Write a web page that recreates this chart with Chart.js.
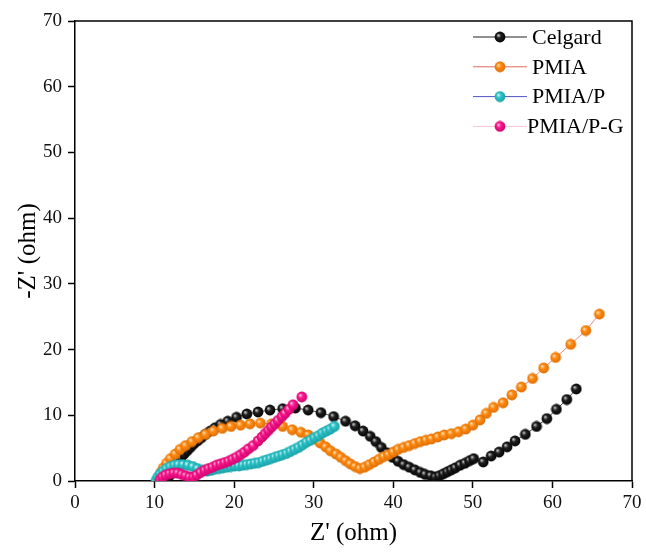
<!DOCTYPE html>
<html>
<head>
<meta charset="utf-8">
<title>Nyquist</title>
<script src="https://cdn.jsdelivr.net/npm/chart.js@4.4.0/dist/chart.umd.min.js"></script>
<style>
  body { margin: 0; background: #fff; }
  canvas { display: block; }
</style>
</head>
<body>
<canvas id="nyquist" width="646" height="556"></canvas>
<script>
const etiquetas = ["Celgard", "PMIA", "PMIA/P", "PMIA/P-G"];

// Z' (ohm) / -Z'' (ohm) de cada membrana
const celgardX = [11.6, 11.8, 12.0, 12.3, 12.6, 12.9, 13.3, 13.7, 14.1, 14.5, 14.9, 15.4, 15.9, 16.4, 17.0, 17.6, 18.3, 19.2, 20.3, 21.6, 23.0, 24.5, 26.1, 27.7, 29.3, 30.9, 32.5, 34.0, 35.2, 36.2, 37.1, 37.8, 38.5, 39.2, 39.9, 40.6, 41.3, 42.0, 42.7, 43.4, 44.0, 44.7, 45.3, 45.8, 46.3, 46.8, 47.3, 47.8, 48.4, 49.0, 49.6, 50.1, 51.3, 52.3, 53.3, 54.3, 55.3, 56.6, 58.0, 59.3, 60.5, 61.8, 63.0];
const celgardY = [0.2, 0.7, 1.2, 1.8, 2.4, 3.0, 3.5, 4.1, 4.6, 5.1, 5.6, 6.1, 6.6, 7.1, 7.6, 8.1, 8.6, 9.1, 9.7, 10.2, 10.5, 10.8, 11.0, 11.1, 10.8, 10.4, 9.8, 9.1, 8.4, 7.6, 6.8, 6.0, 5.1, 4.3, 3.6, 3.0, 2.5, 2.1, 1.7, 1.3, 1.0, 0.8, 0.6, 0.8, 1.1, 1.4, 1.7, 2.0, 2.4, 2.7, 3.1, 3.4, 2.9, 3.8, 4.4, 5.2, 6.1, 7.1, 8.3, 9.5, 10.9, 12.4, 14.0];

const pmiaX = [10.6, 10.8, 11.1, 11.5, 12.0, 12.6, 13.2, 13.9, 14.7, 15.5, 16.4, 17.4, 18.5, 19.6, 20.8, 22.0, 23.3, 24.7, 26.1, 27.3, 28.4, 29.3, 30.1, 30.8, 31.5, 32.1, 32.8, 33.4, 34.0, 34.6, 35.2, 35.8, 36.4, 37.0, 37.6, 38.2, 38.8, 39.4, 40.0, 40.6, 41.3, 42.0, 42.7, 43.4, 44.1, 44.8, 45.6, 46.4, 47.3, 48.2, 49.1, 50.0, 50.9, 51.7, 52.6, 53.8, 54.9, 56.1, 57.5, 58.9, 60.4, 62.3, 64.2, 65.9];
const pmiaY = [0.6, 1.3, 2.0, 2.7, 3.4, 4.1, 4.8, 5.4, 6.0, 6.6, 7.1, 7.6, 8.0, 8.3, 8.5, 8.7, 8.8, 8.7, 8.3, 7.8, 7.4, 7.0, 6.4, 5.8, 5.2, 4.6, 4.1, 3.6, 3.1, 2.6, 2.2, 1.9, 2.1, 2.5, 2.9, 3.3, 3.7, 4.0, 4.4, 4.8, 5.1, 5.4, 5.7, 6.0, 6.2, 6.4, 6.7, 7.0, 7.2, 7.5, 7.9, 8.5, 9.3, 10.3, 11.2, 11.9, 13.1, 14.3, 15.6, 17.2, 18.8, 20.8, 22.9, 25.4];

const pmiaPX = [10.2, 10.4, 10.7, 11.1, 11.5, 12.0, 12.5, 13.0, 13.6, 14.2, 14.8, 15.4, 16.0, 16.6, 17.1, 17.6, 18.1, 18.6, 19.1, 19.6, 20.1, 20.6, 21.1, 21.6, 22.1, 22.6, 23.1, 23.6, 24.1, 24.6, 25.1, 25.6, 26.1, 26.6, 27.1, 27.6, 28.1, 28.6, 29.1, 29.6, 30.1, 30.6, 31.1, 31.6, 32.1, 32.6];
const pmiaPY = [0.1, 0.6, 1.1, 1.5, 1.9, 2.2, 2.4, 2.5, 2.5, 2.4, 2.2, 1.9, 1.6, 1.5, 1.6, 1.8, 1.9, 2.0, 2.1, 2.2, 2.3, 2.3, 2.4, 2.5, 2.6, 2.7, 2.8, 3.0, 3.2, 3.4, 3.6, 3.8, 4.0, 4.2, 4.5, 4.8, 5.1, 5.5, 5.9, 6.2, 6.6, 6.9, 7.3, 7.6, 7.9, 8.3];

const pmiaPGX = [10.7, 11.0, 11.4, 11.9, 12.4, 12.9, 13.4, 13.9, 14.4, 14.9, 15.3, 15.8, 16.3, 16.8, 17.3, 17.8, 18.3, 18.8, 19.3, 19.8, 20.3, 20.8, 21.3, 21.8, 22.4, 23.0, 23.5, 23.9, 24.3, 24.7, 25.1, 25.5, 26.0, 26.4, 26.9, 27.4, 28.5];
const pmiaPGY = [0.2, 0.6, 0.9, 1.1, 1.2, 1.2, 1.0, 0.8, 0.6, 0.6, 0.9, 1.3, 1.6, 1.9, 2.1, 2.4, 2.6, 2.8, 3.0, 3.3, 3.6, 4.0, 4.4, 4.9, 5.4, 6.1, 6.7, 7.2, 7.7, 8.2, 8.7, 9.2, 9.8, 10.3, 10.9, 11.6, 12.8];

const ejeMin = 0;
const ejeMax = 70;
const paso = 10;

const fuente = "'Liberation Serif', 'Times New Roman', serif";

// bolita con brillo para los marcadores
function bola(brillo, color, sombra) {
    const c = document.createElement("canvas");
    c.width = 12;
    c.height = 12;
    const ctx = c.getContext("2d");
    const g = ctx.createRadialGradient(4.2, 4.2, 0.3, 6, 6, 6);
    g.addColorStop(0, brillo);
    g.addColorStop(0.35, color);
    g.addColorStop(1, sombra);
    ctx.fillStyle = g;
    ctx.beginPath();
    ctx.arc(6, 6, 5.4, 0, Math.PI * 2);
    ctx.fill();
    return c;
}

const series = [
    { x: celgardX, y: celgardY, linea: "#222222", bola: bola("#c8c8c8", "#202020", "#000000") },
    { x: pmiaX, y: pmiaY, linea: "#e06a62", bola: bola("#ffe0b8", "#ff8c14", "#d96a00") },
    { x: pmiaPX, y: pmiaPY, linea: "#5252c4", bola: bola("#d4f7f8", "#30c5ca", "#149ca2") },
    { x: pmiaPGX, y: pmiaPGY, linea: "#f6c4d2", bola: bola("#ffc6e4", "#ff1a8e", "#c4006a") }
];

const datasets = series.map((s, i) => ({
    label: etiquetas[i],
    data: s.x.map((v, j) => ({ x: v, y: s.y[j] })),
    borderColor: s.linea,
    borderWidth: 0.8,
    pointStyle: s.bola,
    pointRadius: 5,
    pointHoverRadius: 5,
    showLine: true,
    tension: 0,
    order: 4 - i
}));

// marco superior y derecho
const marco = {
    id: "marco",
    afterDatasetsDraw(chart) {
        const { ctx, chartArea: a } = chart;
        ctx.save();
        ctx.strokeStyle = "#000";
        ctx.lineWidth = 1.5;
        ctx.beginPath();
        ctx.moveTo(a.left, a.top);
        ctx.lineTo(a.right, a.top);
        ctx.lineTo(a.right, a.bottom);
        ctx.stroke();
        ctx.restore();
    }
};

// leyenda dentro del area, arriba a la derecha
const leyenda = {
    id: "leyenda",
    afterDraw(chart) {
        const { ctx, chartArea: a } = chart;
        ctx.save();
        ctx.font = "22px " + fuente;
        ctx.textBaseline = "middle";
        ctx.fillStyle = "#000";
        series.forEach((s, i) => {
            const y = a.top + 16 + i * 29.8;
            const x0 = a.right - 159;
            ctx.strokeStyle = s.linea;
            ctx.lineWidth = 1;
            ctx.beginPath();
            ctx.moveTo(x0, y);
            ctx.lineTo(x0 + 54, y);
            ctx.stroke();
            ctx.drawImage(s.bola, x0 + 21, y - 6);
            const dx = i === 3 ? -5 : 0;
            ctx.fillText(etiquetas[i], x0 + 59 + dx, y + 1);
        });
        ctx.restore();
    }
};

const ticksFuente = { family: fuente, size: 19 };
const tituloFuente = { family: fuente, size: 25 };

new Chart(document.getElementById("nyquist"), {
    type: "scatter",
    data: { datasets: datasets },
    options: {
        responsive: false,
        animation: false,
        devicePixelRatio: 1,
        layout: { padding: { left: 0, right: 14, top: 21, bottom: 0 } },
        plugins: {
            legend: { display: false },
            tooltip: { enabled: false }
        },
        scales: {
            x: {
                type: "linear",
                min: ejeMin,
                max: ejeMax,
                ticks: { stepSize: paso, font: ticksFuente, color: "#111", padding: 4 },
                grid: { drawOnChartArea: false, tickLength: 7, tickColor: "#000", tickWidth: 1.5 },
                border: { color: "#000", width: 1.5 },
                title: { display: true, text: "Z' (ohm)", font: tituloFuente, color: "#000", padding: { top: 0, bottom: 8 } },
                afterFit(scale) { scale.height = 75; }
            },
            y: {
                type: "linear",
                min: ejeMin,
                max: ejeMax,
                ticks: { stepSize: paso, font: ticksFuente, color: "#111", padding: 6 },
                grid: { drawOnChartArea: false, tickLength: 7, tickColor: "#000", tickWidth: 1.5 },
                border: { color: "#000", width: 1.5 },
                title: { display: true, text: "-Z' (ohm)", font: tituloFuente, color: "#000", padding: { top: 13, bottom: 0 } },
                afterFit(scale) { scale.width = 75; }
            }
        }
    },
    plugins: [marco, leyenda]
});
</script>
</body>
</html>
